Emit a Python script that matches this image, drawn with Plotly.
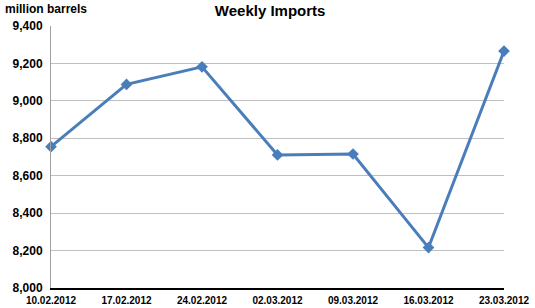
import plotly.graph_objects as go

dates = ["10.02.2012", "17.02.2012", "24.02.2012", "02.03.2012",
         "09.03.2012", "16.03.2012", "23.03.2012"]
imports = [8755, 9088, 9182, 8711, 8716, 8216, 9266]
y_ticks = [8000, 8200, 8400, 8600, 8800, 9000, 9200, 9400]
y_tick_labels = ["8,000", "8,200", "8,400", "8,600", "8,800", "9,000", "9,200", "9,400"]

font_family = "Liberation Sans, Arial, sans-serif"

fig = go.Figure()
fig.add_trace(go.Scatter(
    x=list(range(len(dates))), y=imports,
    mode="lines+markers",
    line=dict(color="#4a7ebb", width=3),
    marker=dict(symbol="diamond", size=9, color="#4a7ebb"),
    cliponaxis=False,
    showlegend=False,
))

fig.update_layout(
    width=535, height=308,
    margin=dict(l=51, r=31, t=26, b=20, autoexpand=False),
    paper_bgcolor="white", plot_bgcolor="white",
    font=dict(family=font_family, color="black"),
    title=dict(text="<b>Weekly Imports</b>", x=0.505, xanchor="center",
               y=0.965, yanchor="middle", font=dict(size=15, family=font_family)),
    annotations=[dict(text="<b>million barrels</b>", xref="paper", yref="paper",
                      x=-0.105, y=1.063, xanchor="left", yanchor="middle",
                      showarrow=False, font=dict(size=12, family=font_family))],
)

fig.update_xaxes(
    tickmode="array", tickvals=list(range(len(dates))),
    ticktext=[f"<b>{d}</b>" for d in dates],
    range=[0, len(dates) - 1], automargin=False,
    showgrid=False, showline=True, linecolor="black", linewidth=1.5,
    ticks="", tickfont=dict(size=10, family=font_family), ticklabelstandoff=2,
    zeroline=False,
)
fig.update_yaxes(
    range=[8000, 9400], tickmode="array", tickvals=y_ticks, automargin=False,
    ticktext=[f"<b>{t}</b>" for t in y_tick_labels],
    showgrid=True, gridcolor="#bfbfbf", gridwidth=1,
    showline=True, linecolor="#a0a0a0", linewidth=1,
    ticks="", tickfont=dict(size=12, family=font_family), ticklabelstandoff=5,
    zeroline=False,
)

fig.write_html("out.html")
